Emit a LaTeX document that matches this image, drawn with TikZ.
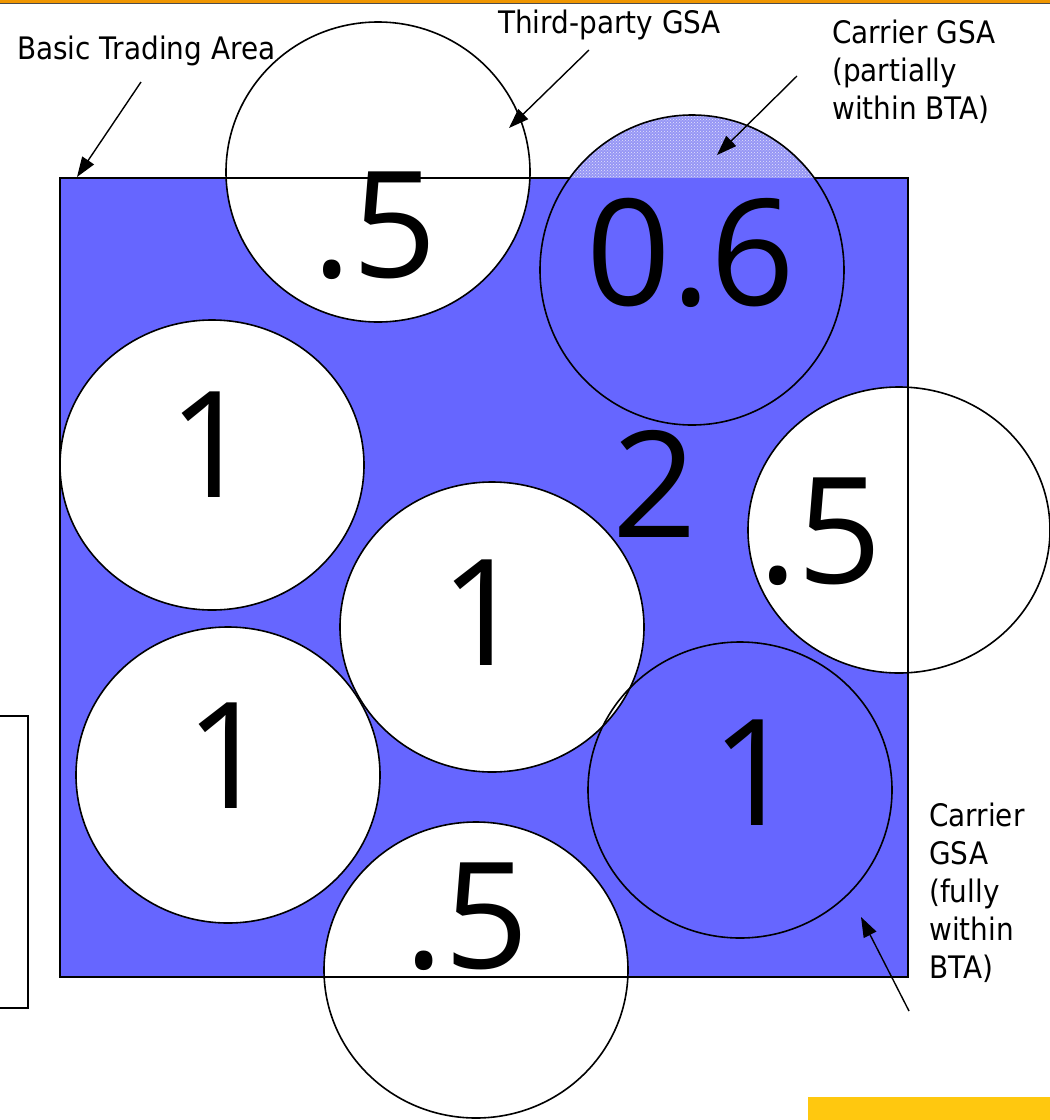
\documentclass[tikz,border=0pt]{standalone}
\usepackage{fontspec}
\setmainfont{DejaVu Sans}[FakeStretch=0.9]
\newfontfamily\numfont{Open Sans}
\usetikzlibrary{arrows.meta,patterns}
\definecolor{btablue}{RGB}{102,102,255}
\definecolor{hatchblue}{RGB}{150,150,245}
\definecolor{barorange}{RGB}{240,150,0}
\definecolor{baryellow}{RGB}{255,200,15}
\begin{document}
\begin{tikzpicture}[x=1pt,y=-1pt,
  gsaline/.style={draw=black, line width=1.6pt},
  bignum/.style={inner sep=0pt, anchor=base, font=\numfont\fontsize{148}{148}\selectfont},
  lbl/.style={inner sep=0pt, font=\fontsize{31}{37}\selectfont},
  mlbl/.style={lbl, anchor=north west, align=left, text height=23pt, font=\fontsize{31}{38}\selectfont},
  callout/.style={line width=1.4pt, -{Triangle[length=20pt,width=14pt]}}]
\useasboundingbox (0,0) rectangle (1050,1120);
% top bar and bottom bar
\fill[barorange] (0,0) rectangle (1050,2.5);
\draw[black!70, line width=1pt] (0,3) -- (1050,3);
\fill[baryellow] (808,1097) rectangle (1050,1120);
% left partial box
\draw[line width=1.4pt] (-10,716) -- (28,716) -- (28,1008) -- (-10,1008);
\node[inner sep=0pt, anchor=base east, font=\fontsize{60}{60}\selectfont] (leftnum) at (5,872) {5};
% Basic trading area
\fill[btablue] (60,178) rectangle (908,977);
% white GSAs
\fill[white] (378,172) ellipse [x radius=152pt, y radius=150pt];
\fill[white] (212,465) ellipse [x radius=152pt, y radius=145pt];
\fill[white] (492,627) ellipse [x radius=152pt, y radius=145pt];
\fill[white] (899,530) ellipse [x radius=151pt, y radius=143pt];
\fill[white] (228,775) ellipse [x radius=152pt, y radius=148pt];
\fill[white] (476,970) ellipse [x radius=152pt, y radius=148pt];
\draw[line width=1.5pt] (60,178) rectangle (908,977);
% carrier GSA partially within BTA
\begin{scope}
  \clip (530,100) rectangle (860,178);
  \fill[hatchblue] (692,270) ellipse [x radius=152pt, y radius=155pt];
  \fill[pattern=crosshatch dots, pattern color=white!75!hatchblue] (692,270) ellipse [x radius=152pt, y radius=155pt];
\end{scope}
\begin{scope}
  \clip (530,178) rectangle (860,440);
  \fill[btablue] (692,270) ellipse [x radius=152pt, y radius=155pt];
\end{scope}
% outlines
\draw[gsaline] (378,172) ellipse [x radius=152pt, y radius=150pt];
\draw[gsaline] (212,465) ellipse [x radius=152pt, y radius=145pt];
\draw[gsaline] (492,627) ellipse [x radius=152pt, y radius=145pt];
\draw[gsaline] (899,530) ellipse [x radius=151pt, y radius=143pt];
\draw[gsaline] (228,775) ellipse [x radius=152pt, y radius=148pt];
\draw[gsaline] (476,970) ellipse [x radius=152pt, y radius=148pt];
\draw[gsaline] (692,270) ellipse [x radius=152pt, y radius=155pt];
\draw[gsaline] (740,790) ellipse [x radius=152pt, y radius=148pt];
% numbers
\node[bignum] (ntop) at (375,277) {.5};
\node[bignum] (nsix) at (691,305) {0.6};
\node[bignum] (nleft) at (211,497) {1};
\node[bignum] (ntwo) at (655,537) {2};
\node[bignum] (nright) at (820,583) {.5};
\node[bignum] (ncenter) at (483,665) {1};
\node[bignum] (nlowleft) at (228,808) {1};
\node[bignum] (nlowright) at (754,825) {1};
\node[bignum] (nbottom) at (467,968) {.5};
% labels
\node[lbl, anchor=base west] (lbta) at (17,59) {Basic Trading Area};
\node[lbl, anchor=base west] (lthird) at (498,33) {Third-party GSA};
\node[mlbl] (lpart) at (832,96) {Carrier GSA\\(partially\\within BTA)};
\node[mlbl] (lfull) at (929,955) {Carrier\\GSA\\(fully\\within\\BTA)};
% callouts
\coordinate (abta) at (141,82);
\coordinate (tbta) at (77,177);
\coordinate (athird) at (589,50);
\coordinate (tthird) at (509,128);
\coordinate (apart) at (797,76);
\coordinate (tpart) at (717,155);
\coordinate (afull) at (909,1011);
\coordinate (tfull) at (861,917);
\draw[callout] (abta) -- (tbta);
\draw[callout] (athird) -- (tthird);
\draw[callout] (apart) -- (tpart);
\draw[callout] (afull) -- (tfull);
\end{tikzpicture}
\end{document}
